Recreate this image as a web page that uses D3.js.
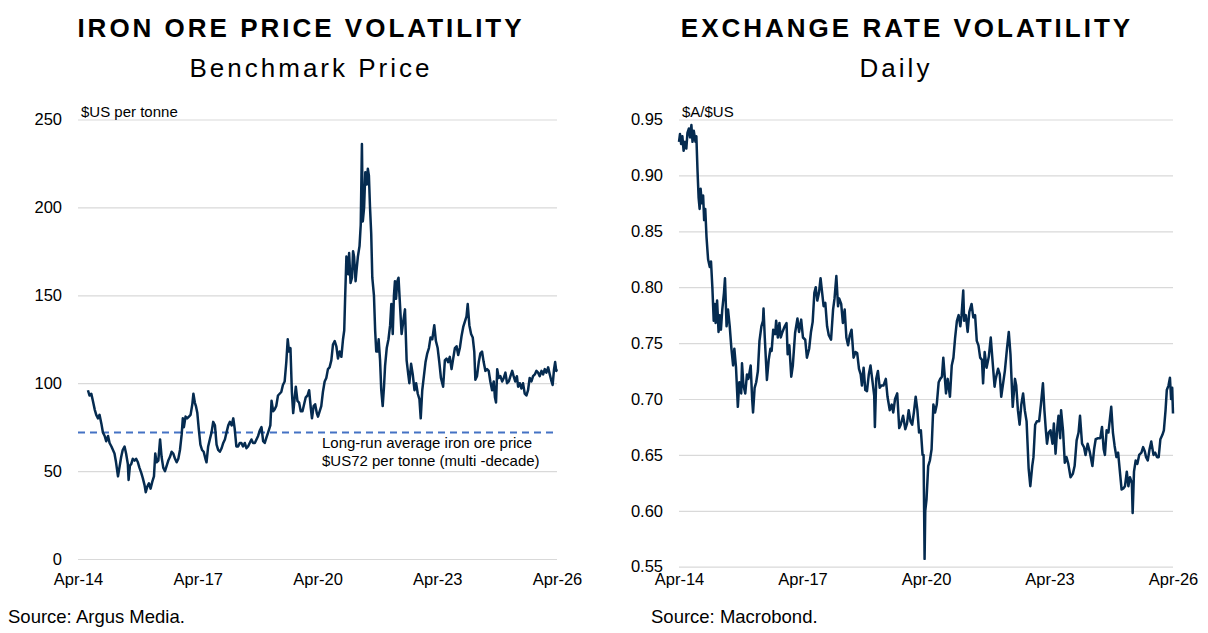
<!DOCTYPE html>
<html>
<head>
<meta charset="utf-8">
<script src="https://cdn.jsdelivr.net/npm/d3@7"></script>
<style>
  body { margin: 0; background: #fff; }
  text { font-family: "Liberation Sans", Arial, sans-serif; fill: #000; }
</style>
</head>
<body>
<script>
const W = 1208;
const H = 633;

// iron ore benchmark price, $US per tonne
const ironOre = [
["2014-07-01",96],["2014-07-15",93],["2014-08-01",94],["2014-08-15",90],["2014-09-01",85],["2014-09-15",82],["2014-10-01",80],["2014-10-15",82],["2014-11-01",77],["2014-11-15",72],["2014-12-01",70],["2014-12-15",67],
["2015-01-01",70],["2015-01-15",66],["2015-02-01",64],["2015-02-15",62],["2015-03-01",60],["2015-03-15",55],["2015-04-02",47],["2015-04-15",52],["2015-05-01",58],["2015-05-15",62],["2015-06-01",64],["2015-06-15",60],["2015-07-01",54],["2015-07-08",45],["2015-07-20",53],["2015-08-01",54],["2015-08-15",57],["2015-09-01",56],["2015-09-15",57],["2015-10-01",55],["2015-10-15",52],["2015-11-01",49],["2015-11-15",46],["2015-12-01",42],["2015-12-12",38],["2015-12-25",41],
["2016-01-10",43],["2016-01-25",40],["2016-02-10",44],["2016-02-25",47],["2016-03-08",60],["2016-03-20",55],["2016-04-05",56],["2016-04-21",68],["2016-05-05",58],["2016-05-20",52],["2016-06-05",50],["2016-06-20",53],["2016-07-05",56],["2016-07-20",58],["2016-08-05",61],["2016-08-20",60],["2016-09-05",57],["2016-09-20",55],["2016-10-05",57],["2016-10-20",62],["2016-11-05",71],["2016-11-15",80],["2016-11-25",75],["2016-12-10",81],["2016-12-25",80],
["2017-01-10",81],["2017-01-25",82],["2017-02-10",88],["2017-02-20",94],["2017-03-05",89],["2017-03-15",87],["2017-03-28",83],["2017-04-10",74],["2017-04-25",65],["2017-05-10",62],["2017-05-25",61],["2017-06-10",57],["2017-06-20",55],["2017-07-05",64],["2017-07-20",68],["2017-08-05",72],["2017-08-20",78],["2017-09-05",76],["2017-09-20",65],["2017-10-05",62],["2017-10-20",61],["2017-11-05",63],["2017-11-20",66],["2017-12-05",68],["2017-12-20",72],
["2018-01-05",76],["2018-01-20",78],["2018-02-05",76],["2018-02-20",80],["2018-03-05",74],["2018-03-20",64],["2018-04-05",64],["2018-04-20",66],["2018-05-05",66],["2018-05-20",64],["2018-06-05",66],["2018-06-20",63],["2018-07-05",64],["2018-07-20",66],["2018-08-05",68],["2018-08-20",66],["2018-09-05",66],["2018-09-20",68],["2018-10-05",70],["2018-10-20",73],["2018-11-05",75],["2018-11-20",67],["2018-12-05",66],["2018-12-20",69],
["2019-01-05",72],["2019-01-25",76],["2019-02-05",90],["2019-02-20",84],["2019-03-05",85],["2019-03-20",87],["2019-04-05",93],["2019-04-20",94],["2019-05-05",95],["2019-05-20",99],["2019-06-05",101],["2019-06-20",112],["2019-07-03",125],["2019-07-15",118],["2019-07-28",120],["2019-08-10",95],["2019-08-22",83],["2019-09-05",92],["2019-09-15",98],["2019-09-30",90],["2019-10-15",89],["2019-10-30",84],["2019-11-15",84],["2019-11-30",88],["2019-12-15",92],["2019-12-31",93],
["2020-01-15",96],["2020-01-30",86],["2020-02-10",80],["2020-02-25",87],["2020-03-10",88],["2020-03-25",83],["2020-04-05",81],["2020-04-20",84],["2020-05-05",87],["2020-05-20",95],["2020-06-05",101],["2020-06-20",103],["2020-07-05",108],["2020-07-20",109],["2020-08-05",113],["2020-08-20",122],["2020-09-05",124],["2020-09-20",121],["2020-10-05",114],["2020-10-20",118],["2020-11-05",115],["2020-11-20",125],["2020-12-01",130],["2020-12-10",150],["2020-12-21",172],
["2021-01-05",162],["2021-01-15",174],["2021-01-28",157],["2021-02-10",160],["2021-02-20",175],["2021-03-01",172],["2021-03-15",158],["2021-03-25",165],["2021-04-05",172],["2021-04-20",178],["2021-05-01",190],["2021-05-12",236],["2021-05-20",192],["2021-06-01",200],["2021-06-12",220],["2021-06-25",213],["2021-07-05",222],["2021-07-15",218],["2021-07-25",200],["2021-08-05",185],["2021-08-15",160],["2021-08-30",150],["2021-09-10",130],["2021-09-20",118],["2021-10-01",118],["2021-10-12",125],["2021-10-25",113],["2021-11-05",96],["2021-11-18",87],["2021-11-30",98],["2021-12-10",110],["2021-12-25",120],
["2022-01-10",125],["2022-01-25",133],["2022-02-05",145],["2022-02-18",128],["2022-03-01",150],["2022-03-10",158],["2022-03-20",148],["2022-04-01",158],["2022-04-12",160],["2022-04-25",145],["2022-05-10",128],["2022-05-25",135],["2022-06-10",142],["2022-06-25",113],["2022-07-10",105],["2022-07-20",100],["2022-08-05",111],["2022-08-20",105],["2022-09-05",96],["2022-09-20",100],["2022-10-05",94],["2022-10-20",91],["2022-11-01",80],["2022-11-15",96],["2022-11-30",104],["2022-12-15",112],["2022-12-31",117],
["2023-01-15",120],["2023-01-30",126],["2023-02-15",125],["2023-03-05",133],["2023-03-20",124],["2023-04-05",120],["2023-04-20",112],["2023-05-05",103],["2023-05-25",98],["2023-06-10",113],["2023-06-25",114],["2023-07-10",112],["2023-07-25",115],["2023-08-10",108],["2023-08-25",114],["2023-09-10",120],["2023-09-25",121],["2023-10-10",116],["2023-10-25",120],["2023-11-10",127],["2023-11-25",132],["2023-12-10",135],["2023-12-25",138],
["2024-01-05",145],["2024-01-20",133],["2024-02-05",128],["2024-02-20",126],["2024-03-05",118],["2024-03-15",102],["2024-03-30",104],["2024-04-15",112],["2024-04-30",117],["2024-05-15",118],["2024-05-30",112],["2024-06-15",107],["2024-06-30",108],["2024-07-15",107],["2024-07-30",101],["2024-08-15",96],["2024-08-30",101],["2024-09-10",92],["2024-09-20",89],["2024-10-01",108],["2024-10-15",103],["2024-10-30",104],["2024-11-15",101],["2024-11-30",103],["2024-12-15",106],["2024-12-30",100],
["2025-01-15",101],["2025-01-30",104],["2025-02-15",107],["2025-02-28",104],["2025-03-15",101],["2025-03-30",104],["2025-04-10",98],["2025-04-25",100],["2025-05-10",97],["2025-05-25",100],["2025-06-10",94],["2025-06-25",93],["2025-07-10",96],["2025-07-25",103],["2025-08-10",101],["2025-08-25",104],["2025-09-10",105],["2025-09-25",107],["2025-10-10",106],["2025-10-25",104],["2025-11-10",107],["2025-11-25",105],["2025-12-10",108],["2025-12-25",106],
["2026-01-10",109],["2026-01-25",105],["2026-02-10",101],["2026-02-20",99],["2026-03-05",108],["2026-03-15",112],["2026-03-25",107],["2026-04-01",108]
];

// AUD/USD, daily
const audUsd = [
["2014-04-01",0.930],["2014-04-10",0.937],["2014-04-20",0.928],["2014-05-01",0.935],["2014-05-12",0.922],["2014-05-25",0.930],["2014-06-05",0.924],["2014-06-15",0.938],["2014-06-28",0.942],["2014-07-08",0.934],["2014-07-20",0.945],["2014-07-30",0.930],["2014-08-10",0.940],["2014-08-25",0.930],["2014-09-02",0.935],["2014-09-12",0.905],["2014-09-22",0.880],["2014-10-01",0.870],["2014-10-10",0.888],["2014-10-20",0.875],["2014-11-01",0.882],["2014-11-10",0.860],["2014-11-20",0.870],["2014-12-01",0.845],["2014-12-15",0.825],["2014-12-30",0.818],
["2015-01-10",0.823],["2015-01-22",0.800],["2015-02-03",0.770],["2015-02-12",0.785],["2015-02-20",0.768],["2015-03-05",0.788],["2015-03-18",0.760],["2015-03-28",0.775],["2015-04-08",0.762],["2015-04-20",0.780],["2015-05-05",0.795],["2015-05-14",0.808],["2015-05-28",0.765],["2015-06-10",0.780],["2015-06-25",0.765],["2015-07-10",0.745],["2015-07-25",0.730],["2015-08-05",0.745],["2015-08-20",0.728],["2015-09-05",0.693],["2015-09-18",0.715],["2015-10-05",0.705],["2015-10-12",0.732],["2015-10-25",0.712],["2015-11-10",0.705],["2015-11-25",0.722],["2015-12-08",0.718],["2015-12-28",0.730],
["2016-01-10",0.700],["2016-01-18",0.688],["2016-02-01",0.710],["2016-02-15",0.715],["2016-03-01",0.725],["2016-03-15",0.752],["2016-04-01",0.765],["2016-04-15",0.770],["2016-04-20",0.781],["2016-05-01",0.755],["2016-05-20",0.717],["2016-06-05",0.735],["2016-06-20",0.745],["2016-07-01",0.743],["2016-07-15",0.762],["2016-08-01",0.758],["2016-08-10",0.770],["2016-08-25",0.755],["2016-09-08",0.768],["2016-09-20",0.755],["2016-10-05",0.760],["2016-10-25",0.765],["2016-11-10",0.768],["2016-11-20",0.740],["2016-12-05",0.748],["2016-12-22",0.720],
["2017-01-05",0.730],["2017-01-25",0.759],["2017-02-15",0.772],["2017-03-01",0.760],["2017-03-20",0.771],["2017-04-05",0.755],["2017-04-25",0.753],["2017-05-10",0.737],["2017-05-30",0.745],["2017-06-15",0.760],["2017-06-30",0.769],["2017-07-15",0.795],["2017-07-27",0.800],["2017-08-10",0.788],["2017-08-25",0.795],["2017-09-08",0.808],["2017-09-20",0.797],["2017-10-05",0.783],["2017-10-20",0.786],["2017-11-05",0.765],["2017-11-20",0.757],["2017-12-10",0.753],["2017-12-28",0.780],
["2018-01-10",0.790],["2018-01-26",0.810],["2018-02-10",0.783],["2018-02-20",0.790],["2018-03-10",0.785],["2018-03-25",0.768],["2018-04-10",0.780],["2018-04-25",0.755],["2018-05-10",0.748],["2018-05-25",0.757],["2018-06-10",0.762],["2018-06-28",0.737],["2018-07-15",0.742],["2018-07-30",0.741],["2018-08-15",0.727],["2018-08-30",0.722],["2018-09-10",0.712],["2018-09-25",0.728],["2018-10-10",0.708],["2018-10-25",0.707],["2018-11-10",0.722],["2018-11-25",0.730],["2018-12-10",0.718],["2018-12-28",0.703],
["2019-01-03",0.675],["2019-01-15",0.718],["2019-01-30",0.725],["2019-02-15",0.710],["2019-03-01",0.712],["2019-03-20",0.712],["2019-04-10",0.718],["2019-04-25",0.702],["2019-05-15",0.690],["2019-06-01",0.695],["2019-06-15",0.688],["2019-07-01",0.700],["2019-07-20",0.705],["2019-08-07",0.674],["2019-08-20",0.677],["2019-09-10",0.685],["2019-09-30",0.673],["2019-10-15",0.678],["2019-10-30",0.690],["2019-11-15",0.680],["2019-11-30",0.677],["2019-12-15",0.688],["2019-12-31",0.702],
["2020-01-15",0.690],["2020-01-30",0.670],["2020-02-15",0.672],["2020-03-01",0.650],["2020-03-10",0.650],["2020-03-19",0.557],["2020-03-25",0.600],["2020-04-05",0.610],["2020-04-20",0.640],["2020-05-05",0.645],["2020-05-20",0.655],["2020-06-05",0.695],["2020-06-20",0.688],["2020-07-05",0.695],["2020-07-22",0.715],["2020-08-05",0.718],["2020-08-20",0.720],["2020-09-01",0.737],["2020-09-25",0.705],["2020-10-10",0.718],["2020-10-30",0.702],["2020-11-15",0.730],["2020-11-30",0.737],["2020-12-15",0.755],["2020-12-31",0.770],
["2021-01-15",0.775],["2021-01-30",0.765],["2021-02-10",0.775],["2021-02-25",0.797],["2021-03-05",0.770],["2021-03-20",0.775],["2021-04-05",0.760],["2021-04-20",0.778],["2021-05-10",0.785],["2021-05-25",0.773],["2021-06-10",0.775],["2021-06-25",0.752],["2021-07-10",0.748],["2021-07-25",0.737],["2021-08-10",0.735],["2021-08-20",0.714],["2021-09-03",0.742],["2021-09-20",0.728],["2021-10-10",0.738],["2021-10-27",0.755],["2021-11-15",0.730],["2021-11-30",0.711],["2021-12-10",0.718],["2021-12-31",0.727],
["2022-01-15",0.722],["2022-01-28",0.702],["2022-02-15",0.715],["2022-03-01",0.725],["2022-03-20",0.745],["2022-04-05",0.760],["2022-04-20",0.740],["2022-05-10",0.693],["2022-05-30",0.718],["2022-06-10",0.712],["2022-06-25",0.690],["2022-07-10",0.677],["2022-07-25",0.695],["2022-08-10",0.705],["2022-08-25",0.690],["2022-09-10",0.680],["2022-09-28",0.638],["2022-10-13",0.622],["2022-10-30",0.640],["2022-11-10",0.648],["2022-11-25",0.677],["2022-12-10",0.680],["2022-12-30",0.680],
["2023-01-15",0.695],["2023-02-02",0.714],["2023-02-15",0.690],["2023-02-28",0.672],["2023-03-10",0.660],["2023-03-25",0.670],["2023-04-10",0.672],["2023-04-28",0.660],["2023-05-10",0.678],["2023-05-25",0.651],["2023-06-10",0.675],["2023-06-20",0.685],["2023-07-05",0.665],["2023-07-13",0.690],["2023-07-30",0.672],["2023-08-15",0.643],["2023-08-30",0.648],["2023-09-15",0.642],["2023-10-05",0.630],["2023-10-25",0.633],["2023-11-10",0.640],["2023-11-28",0.663],["2023-12-15",0.670],["2023-12-28",0.685],
["2024-01-15",0.660],["2024-02-01",0.657],["2024-02-15",0.650],["2024-03-05",0.660],["2024-03-25",0.652],["2024-04-16",0.640],["2024-05-01",0.655],["2024-05-15",0.664],["2024-06-05",0.665],["2024-06-25",0.665],["2024-07-10",0.675],["2024-07-25",0.655],["2024-08-05",0.650],["2024-08-20",0.672],["2024-09-05",0.670],["2024-09-30",0.693],["2024-10-15",0.670],["2024-10-30",0.658],["2024-11-15",0.648],["2024-11-30",0.652],["2024-12-15",0.636],["2024-12-31",0.619],
["2025-01-15",0.620],["2025-01-30",0.622],["2025-02-15",0.635],["2025-03-01",0.622],["2025-03-15",0.630],["2025-04-01",0.625],["2025-04-08",0.598],["2025-04-20",0.635],["2025-05-05",0.645],["2025-05-20",0.642],["2025-06-05",0.650],["2025-06-25",0.652],["2025-07-10",0.657],["2025-07-25",0.653],["2025-08-05",0.648],["2025-08-20",0.645],["2025-09-05",0.655],["2025-09-20",0.662],["2025-10-10",0.650],["2025-10-25",0.652],["2025-11-10",0.648],["2025-11-25",0.648],["2025-12-10",0.664],["2025-12-28",0.668],
["2026-01-10",0.672],["2026-01-25",0.690],["2026-02-05",0.708],["2026-02-20",0.712],["2026-03-05",0.719],["2026-03-15",0.700],["2026-03-25",0.710],["2026-04-01",0.687]
];

const xTickDates = ["2014-04-01", "2017-04-01", "2020-04-01", "2023-04-01", "2026-04-01"];
const ironTicks = [0, 50, 100, 150, 200, 250];
const audTicks = [0.55, 0.60, 0.65, 0.70, 0.75, 0.80, 0.85, 0.90, 0.95];
const longRunAvg = 72;

const parse = d3.timeParse("%Y-%m-%d");
const fmtX = d3.timeFormat("%b-%y");
const lineColor = "#052b50";
const gridColor = "#d9d9d9";

var svg = d3.select("body")
    .append("svg")
    .attr("width", W)
    .attr("height", H);

function drawPanel(opt) {
    let x = d3.scaleTime()
        .domain([parse(xTickDates[0]), parse(xTickDates[xTickDates.length - 1])])
        .range([opt.left, opt.right]);
    let y = d3.scaleLinear()
        .domain(opt.yDomain)
        .range([opt.bottom, opt.top]);

    let g = svg.append("g");

    // gridlines + y labels
    let yAxis = g.append("g")
        .attr("transform", `translate(${opt.left},0)`)
        .call(d3.axisLeft(y)
            .tickValues(opt.yTicks)
            .tickSize(-(opt.right - opt.left))
            .tickPadding(16)
            .tickFormat(opt.yFormat));
    yAxis.select(".domain").remove();
    yAxis.selectAll(".tick line").attr("stroke", gridColor).attr("stroke-width", 1.2);
    yAxis.selectAll(".tick text")
        .style("font-size", "16.5px")
        .style("font-family", "Liberation Sans, Arial, sans-serif")
        .attr("fill", "#000");

    // x labels, both panels share the same label line
    let xAxis = g.append("g")
        .attr("transform", `translate(0,${opt.bottom})`)
        .call(d3.axisBottom(x)
            .tickValues(xTickDates.map(parse))
            .tickSize(0)
            .tickPadding(573 - opt.bottom)
            .tickFormat(fmtX));
    xAxis.select(".domain").remove();
    xAxis.selectAll(".tick text")
        .style("font-size", "16.5px")
        .style("font-family", "Liberation Sans, Arial, sans-serif")
        .attr("fill", "#000");

    // unit label
    g.append("text")
        .attr("x", opt.left + 3)
        .attr("y", opt.top - 3)
        .style("font-size", "15px")
        .text(opt.unit);

    if (opt.extra) opt.extra(g, x, y);

    let line = d3.line()
        .x(d => x(parse(d[0])))
        .y(d => y(d[1]));

    g.append("path")
        .datum(opt.data)
        .attr("fill", "none")
        .attr("stroke", lineColor)
        .attr("stroke-width", 2.5)
        .attr("stroke-linejoin", "round")
        .attr("d", line);

    // titles
    g.append("text")
        .attr("x", opt.titleX)
        .attr("y", 37)
        .attr("text-anchor", "middle")
        .style("font-size", "26px")
        .style("font-weight", "bold")
        .style("letter-spacing", "3px")
        .text(opt.title);
    g.append("text")
        .attr("x", opt.subX)
        .attr("y", 77)
        .attr("text-anchor", "middle")
        .style("font-size", "26px")
        .style("letter-spacing", "3px")
        .text(opt.subtitle);

    g.append("text")
        .attr("x", opt.sourceX)
        .attr("y", 623)
        .style("font-size", "18.5px")
        .text(opt.source);
}

drawPanel({
    left: 78, right: 557, top: 119.5, bottom: 559,
    yDomain: [0, 250], yTicks: ironTicks, yFormat: d3.format("d"),
    unit: "$US per tonne",
    data: ironOre,
    title: "IRON ORE PRICE VOLATILITY", titleX: 301,
    subtitle: "Benchmark Price", subX: 311,
    source: "Source: Argus Media.", sourceX: 8,
    extra: (g, x, y) => {
        g.append("line")
            .attr("x1", 78).attr("x2", 557)
            .attr("y1", y(longRunAvg)).attr("y2", y(longRunAvg))
            .attr("stroke", "#4472c4")
            .attr("stroke-width", 2)
            .attr("stroke-dasharray", "7,5");
        g.append("text")
            .attr("x", 322).attr("y", 448)
            .style("font-size", "15px")
            .text("Long-run average iron ore price");
        g.append("text")
            .attr("x", 322).attr("y", 466)
            .style("font-size", "15px")
            .text("$US72 per tonne (multi -decade)");
    }
});

drawPanel({
    left: 679, right: 1173, top: 119.5, bottom: 566.7,
    yDomain: [0.55, 0.95], yTicks: audTicks, yFormat: d3.format(".2f"),
    unit: "$A/$US",
    data: audUsd,
    title: "EXCHANGE RATE VOLATILITY", titleX: 907,
    subtitle: "Daily", subX: 896,
    source: "Source: Macrobond.", sourceX: 651
});
</script>
</body>
</html>
